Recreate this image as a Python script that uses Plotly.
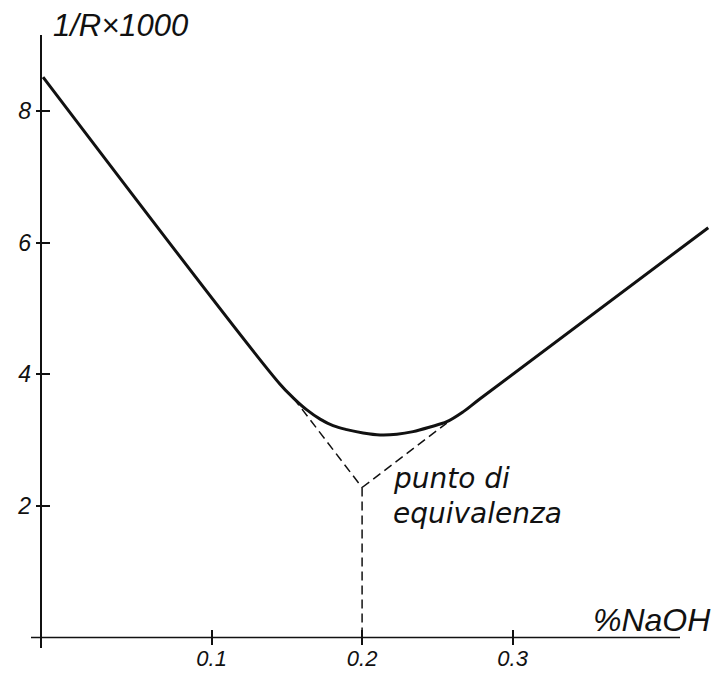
import plotly.graph_objects as go

# Conductometric titration curve
curve_x = [-0.012, 0.1455, 0.1544, 0.1633, 0.1721, 0.1807, 0.1898, 0.2007, 0.212,
           0.2231, 0.2339, 0.2452, 0.2563, 0.2671, 0.2784, 0.43]
curve_y = [8.52, 3.85, 3.64, 3.46, 3.32, 3.22, 3.16, 3.11, 3.08,
           3.09, 3.13, 3.20, 3.28, 3.43, 3.63, 6.23]

# dashed extrapolation lines meeting at the equivalence point
dash_left_x = [0.1544, 0.2]
dash_left_y = [3.64, 2.28]
dash_right_x = [0.2, 0.2563]
dash_right_y = [2.28, 3.26]
dash_vert_x = [0.2, 0.2]
dash_vert_y = [2.28, 0.0]

x_ticks = [0.1, 0.2, 0.3]
x_ticktext = ["0.1", "0.2", "0.3"]
y_ticks = [2, 4, 6, 8]
y_ticktext = ["2", "4", "6", "8"]

X_RANGE = [-0.02, 0.4325]
Y_RANGE = [-0.16, 9.16]
YAXIS_POS = 0.0154
XAXIS_POS = 0.16 / 9.32

INK = "#111111"
FONT = "Liberation Sans"

fig = go.Figure()
fig.add_trace(go.Scatter(x=curve_x, y=curve_y, mode="lines",
                         line=dict(color=INK, width=3, shape="spline", smoothing=1.0),
                         hoverinfo="skip", showlegend=False))
for xs, ys in [(dash_left_x, dash_left_y), (dash_right_x, dash_right_y), (dash_vert_x, dash_vert_y)]:
    fig.add_trace(go.Scatter(x=xs, y=ys, mode="lines", xaxis="x2", yaxis="y2",
                             line=dict(color=INK, width=1.5, dash="9px,5px"),
                             hoverinfo="skip", showlegend=False))

xtickfont = dict(family=FONT, size=22, color=INK, style="italic")
ytickfont = dict(family=FONT, size=23, color=INK, style="italic")

# the page body adds an 8px margin, so the figure is sized to fit inside it
fig.update_layout(
    width=713, height=665,
    margin=dict(l=23, r=9, t=27, b=25),
    paper_bgcolor="white", plot_bgcolor="white",
    xaxis=dict(range=X_RANGE, domain=[0, 1], anchor="free", position=XAXIS_POS,
               automargin=False,
               showline=False, showgrid=False, zeroline=False,
               tickvals=x_ticks, ticktext=x_ticktext, ticks="outside", ticklen=7,
               ticklabelstandoff=-6,
               tickwidth=1.5, tickcolor=INK, tickfont=xtickfont),
    xaxis2=dict(range=X_RANGE, domain=[0, 1], matches="x", overlaying="x", anchor="free",
                automargin=False,
                position=XAXIS_POS, showline=False, showgrid=False, zeroline=False,
                tickvals=x_ticks, ticks="inside", ticklen=7, tickwidth=1.5,
                tickcolor=INK, showticklabels=False),
    yaxis=dict(range=Y_RANGE, domain=[0, 1], anchor="free", position=YAXIS_POS,
               automargin=False,
               showline=True, linecolor=INK, linewidth=1.5,
               showgrid=False, zeroline=False,
               tickvals=y_ticks, ticktext=y_ticktext, ticks="outside", ticklen=5,
               tickwidth=1.5, tickcolor=INK, tickfont=ytickfont),
    yaxis2=dict(range=Y_RANGE, domain=[0, 1], matches="y", overlaying="y", anchor="free",
                automargin=False,
                position=YAXIS_POS, showline=False, showgrid=False, zeroline=False,
                tickvals=y_ticks, ticks="inside", ticklen=8, tickwidth=1.5,
                tickcolor=INK, showticklabels=False),
    shapes=[dict(type="line", xref="paper", yref="y", x0=0, x1=0.953, y0=0, y1=0,
                 line=dict(color=INK, width=1.5))],
    annotations=[
        dict(text="1/R×1000", xref="paper", yref="paper", x=0.029, y=1.0163,
             xanchor="left", yanchor="middle", showarrow=False,
             font=dict(family=FONT, size=31, color=INK, style="italic")),
        dict(text="%NaOH", xref="paper", yref="paper", x=0.823, y=0.0457,
             xanchor="left", yanchor="middle", showarrow=False,
             font=dict(family=FONT, size=32, color=INK, style="italic")),
        dict(text="punto di", xref="paper", yref="paper", x=0.528, y=0.2773,
             xanchor="left", yanchor="middle", showarrow=False,
             font=dict(family="DejaVu Sans", size=28, color=INK, style="italic")),
        dict(text="equivalenza", xref="paper", yref="paper", x=0.528, y=0.2186,
             xanchor="left", yanchor="middle", showarrow=False,
             font=dict(family="DejaVu Sans", size=28, color=INK, style="italic")),
    ],
)

fig.write_html("out.html")
